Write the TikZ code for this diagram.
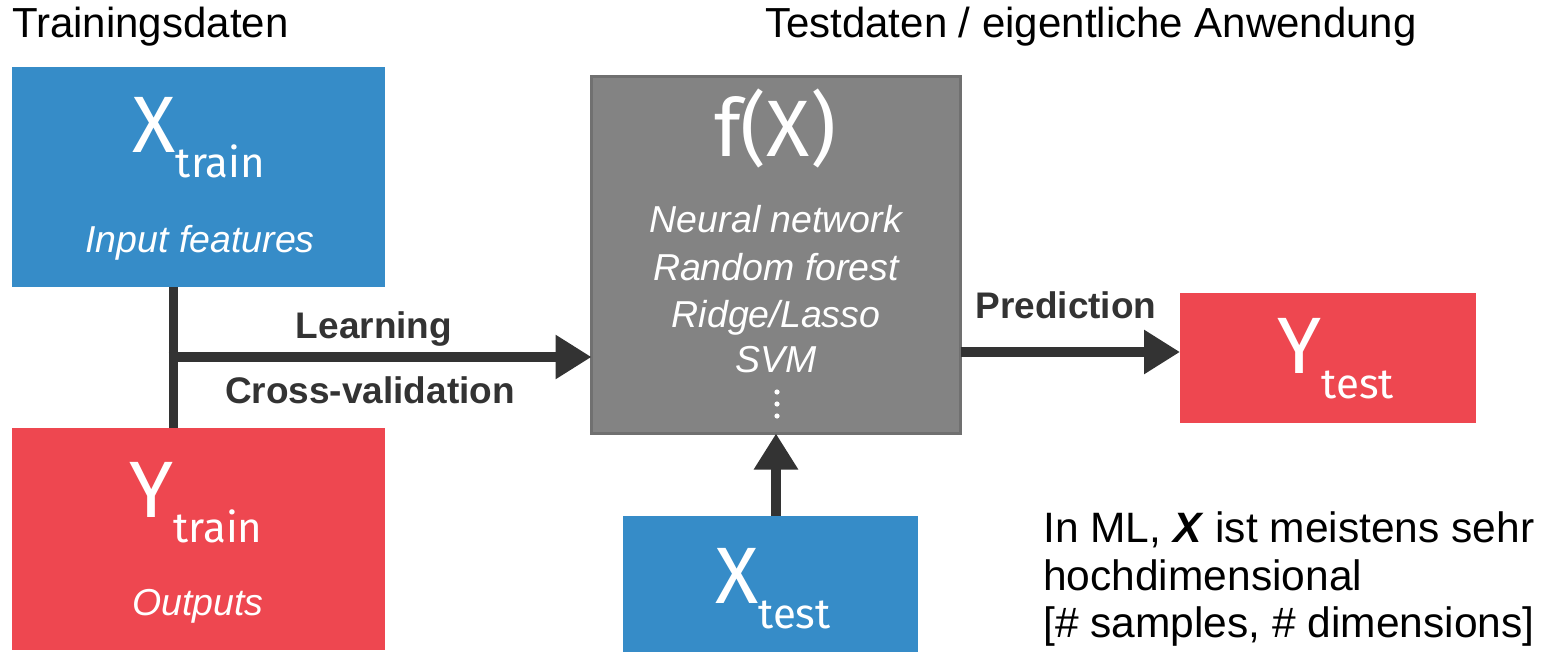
\documentclass[tikz,border=0pt]{standalone}
\usepackage{fontspec}
\setmainfont{Liberation Sans}
\newfontfamily\dinfont{Fira Sans}
\usetikzlibrary{arrows.meta}

\definecolor{boxblue}{HTML}{368CC8}
\definecolor{boxred}{HTML}{EE4750}
\definecolor{boxgray}{HTML}{838383}
\definecolor{boxgrayline}{HTML}{707070}
\definecolor{ink}{HTML}{333333}

% large symbol with a lowered subscript word
\newcommand{\symlabel}[2]{{\dinfont\fontsize{80}{80}\selectfont #1\raisebox{-25pt}{\fontsize{42}{42}\selectfont #2}}}

\begin{document}
\begin{tikzpicture}[x=1pt,y=-1pt,
  panel/.style={inner sep=0pt, outer sep=0pt},
  bluepanel/.style={panel, fill=boxblue},
  redpanel/.style={panel, fill=boxred},
  graypanel/.style={panel, fill=boxgray, draw=boxgrayline, line width=3pt},
  symtext/.style={text=white, inner sep=0pt, anchor=base},
  desc/.style={text=white, inner sep=0pt, anchor=base, font=\fontsize{37.5}{37.5}\selectfont\itshape},
  heading/.style={text=black, inner sep=0pt, anchor=base west, font=\fontsize{42}{42}\selectfont},
  note/.style={text=black, inner sep=0pt, anchor=base west, font=\fontsize{42.5}{42.5}\selectfont},
  edgelabel/.style={text=ink, inner sep=0pt, anchor=base, font=\fontsize{37}{37}\selectfont\bfseries},
  link/.style={draw=ink, line width=9pt},
  flow/.style={draw=ink, line width=10pt, -{Triangle[length=36pt,width=42pt]}}
]
\useasboundingbox (0,0) rectangle (1544,652);

% headings
\node[heading] (hTrain) at (12,38) {Trainingsdaten};
\node[heading] (hTest) at (765,38) {Testdaten / eigentliche Anwendung};

% training data
\node[bluepanel, minimum width=373pt, minimum height=220pt] (xtrain) at (198.5,177) {};
\node[symtext] (xtrainSym) at (199,153) {\symlabel{X}{train}};
\node[desc] (xtrainDesc) at (200,253) {Input features};

\node[redpanel, minimum width=373pt, minimum height=222pt] (ytrain) at (198.5,539) {};
\node[symtext] (ytrainSym) at (196,517) {\symlabel{Y}{train}};
\node[desc] (ytrainDesc) at (198,615) {Outputs};

% model
\node[graypanel, minimum width=369pt, minimum height=357pt] (fx) at (776,255) {};
\node[symtext] (fxSym) at (775,157) {{\dinfont\fontsize{80}{80}\selectfont f(X)}};
\node[desc] (m1) at (776,233) {Neural network};
\node[desc] (m2) at (776,280) {Random forest};
\node[desc] (m3) at (776,327) {Ridge/Lasso};
\node[desc] (m4) at (776,372) {SVM};
\foreach \yy in {392,404,416} \fill[white] (777,\yy) circle (2.6pt);

% test data and prediction
\node[redpanel, minimum width=296pt, minimum height=130pt] (ytest) at (1328,358) {};
\node[symtext] (ytestSym) at (1336,373) {\symlabel{Y}{test}};

\node[bluepanel, minimum width=295pt, minimum height=136pt] (xtest) at (770.5,584) {};
\node[symtext] (xtestSym) at (773,603) {\symlabel{X}{test}};

% connectors
\coordinate (junction) at (173,357);
\draw[link] (xtrain.south -| junction) -- (ytrain.north -| junction);
\draw[flow] ([xshift=-4.5pt]junction) -- (fx.west |- junction);
\coordinate (predY) at (0,352);
\draw[flow] (fx.east |- predY) -- (ytest.west |- predY);
\draw[flow] (xtest.north -| fx.south) -- (fx.south);

% connector labels
\node[edgelabel] (lLearn) at (374,338) {Learning};
\node[edgelabel] (lCV) at (370,403) {Cross-validation};
\node[edgelabel] (lPred) at (1066,318) {Prediction};

% remark
\node[note] (n1) at (1043,542) {In ML, \textbf{\textit{X}} ist meistens sehr};
\node[note] (n2) at (1043,590) {hochdimensional};
\node[note] (n3) at (1043,637) {[\# samples, \# dimensions]};
\end{tikzpicture}
\end{document}
